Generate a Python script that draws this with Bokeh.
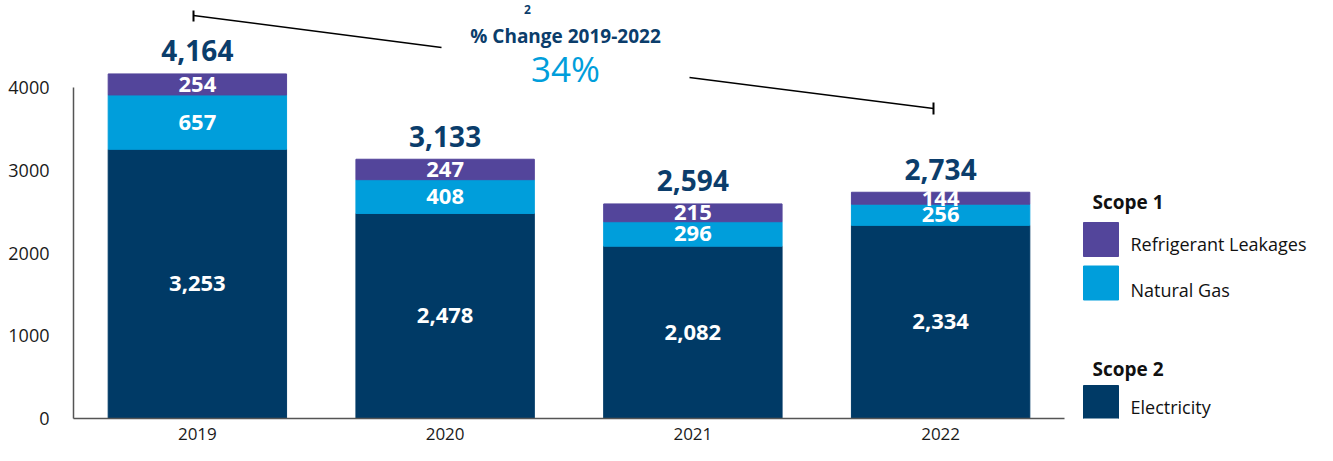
from bokeh.plotting import figure
from bokeh.models import Range1d, FixedTicker, ColumnDataSource
from bokeh.core.properties import value
from bokeh.embed import file_html
from bokeh.resources import INLINE

# ---------------- data ----------------
years = ["2019", "2020", "2021", "2022"]
electricity = [3253, 2478, 2082, 2334]
natural_gas = [657, 408, 296, 256]
refrigerant = [254, 247, 215, 144]
totals = [4164, 3133, 2594, 2734]
pct_change = 34
change_title = "% Change 2019-2022"
y_ticks = [0, 1000, 2000, 3000, 4000]

legend_groups = ["Scope 1", "Scope 2"]
legend_labels = ["Refrigerant Leakages", "Natural Gas", "Electricity"]

# ---------------- style / layout ----------------
NAVY = "#003A66"
LIGHT = "#009EDB"
PURPLE = "#53459B"
TXT_NAVY = "#0B3D6B"
FONT_NAME = "Open Sans"
FONT = value(FONT_NAME)

W_FIG, H_FIG = 1317, 445
FRAME_L, FRAME_B = 73, 418          # frame left / bottom in canvas px
CAT_PX = 247.75                      # px per category slot
PX_PER_UNIT = 331 / 4000             # px per unit

x_end = (W_FIG - FRAME_L) / CAT_PX
y_end = FRAME_B / PX_PER_UNIT


def dx(px):  # canvas px -> data x
    return (px - FRAME_L) / CAT_PX


def dy(py):  # canvas px -> data y
    return (FRAME_B - py) / PX_PER_UNIT


p = figure(x_range=Range1d(0, x_end), y_range=Range1d(0, y_end),
           width=W_FIG, height=H_FIG, output_backend="svg", toolbar_location=None,
           min_border_left=FRAME_L, min_border_right=0, min_border_top=0,
           min_border_bottom=H_FIG - FRAME_B)
p.outline_line_color = None
p.xgrid.grid_line_color = None
p.ygrid.grid_line_color = None

xs = [i + 0.5 for i in range(len(years))]
e_top = electricity
g_top = [e + g for e, g in zip(electricity, natural_gas)]
r_top = [g + r for g, r in zip(g_top, refrigerant)]

src = ColumnDataSource(dict(
    x=xs,
    e_bot=[0] * len(years), e_top=e_top,
    g_bot=e_top, g_top=g_top,
    r_bot=g_top, r_top=r_top,
    e_mid=[e / 2 for e in electricity],
    g_mid=[b + g / 2 for b, g in zip(e_top, natural_gas)],
    r_mid=[b + r / 2 for b, r in zip(g_top, refrigerant)],
    e_lab=[f"{v:,}" for v in electricity],
    g_lab=[f"{v:,}" for v in natural_gas],
    r_lab=[f"{v:,}" for v in refrigerant],
    tot_y=r_top,
    tot_lab=[f"{v:,}" for v in totals],
))

W = 0.72
p.vbar(x="x", bottom="e_bot", top="e_top", width=W, color=NAVY, source=src)
p.vbar(x="x", bottom="g_bot", top="g_top", width=W, color=LIGHT, source=src)
p.vbar(x="x", bottom="r_bot", top="r_top", width=W, color=PURPLE, source=src)

for ycol, tcol in [("e_mid", "e_lab"), ("g_mid", "g_lab"), ("r_mid", "r_lab")]:
    p.text(x="x", y=ycol, text=tcol, source=src, text_color="white",
           text_font=FONT, text_font_style="bold", text_font_size="22px",
           text_align="center", text_baseline="middle")

p.text(x="x", y="tot_y", text="tot_lab", source=src, text_color=TXT_NAVY,
       text_font=FONT, text_font_style="bold", text_font_size="28px",
       text_align="center", text_baseline="middle", y_offset=-23)

# ---------------- % change annotation ----------------
p.line(x=[dx(193), dx(441)], y=[dy(15), dy(47)], line_color="black", line_width=1.5)
p.line(x=[dx(689), dx(933)], y=[dy(77), dy(108)], line_color="black", line_width=1.5)
p.segment(x0=[dx(193), dx(933)], y0=[dy(10), dy(102)],
          x1=[dx(193), dx(933)], y1=[dy(21), dy(114)],
          line_color="black", line_width=2)
p.text(x=[dx(565)], y=[dy(35)], text=[change_title], text_color=TXT_NAVY,
       text_font=FONT, text_font_style="bold", text_font_size="19px",
       text_align="center", text_baseline="middle")
p.text(x=[dx(565)], y=[dy(68)], text=[f"{pct_change}%"], text_color=LIGHT,
       text_font=FONT, text_font_size="35px",
       text_align="center", text_baseline="middle")
p.text(x=[dx(527)], y=[dy(9)], text=["2"], text_color=TXT_NAVY,
       text_font=FONT, text_font_style="bold", text_font_size="12px",
       text_align="center", text_baseline="middle")

# ---------------- legend (drawn in the plot) ----------------
p.text(x=[dx(1092)] * 2, y=[dy(201), dy(368)], text=legend_groups, text_color="#111111",
       text_font=FONT, text_font_style="bold", text_font_size="19px",
       text_align="left", text_baseline="middle")
p.rect(x=[dx(1100.5)] * 3, y=[dy(239), dy(282.5), dy(402)],
       width=35, height=34, width_units="screen", height_units="screen",
       color=[PURPLE, LIGHT, NAVY])
p.text(x=[dx(1130)] * 3, y=[dy(243), dy(289), dy(406)], text=legend_labels,
       text_color="#111111", text_font=FONT, text_font_size="18px",
       text_align="left", text_baseline="middle")

# ---------------- axes ----------------
p.yaxis.ticker = FixedTicker(ticks=y_ticks)
p.yaxis.bounds = (0, 4000)
p.yaxis.major_tick_line_color = None
p.yaxis.minor_tick_line_color = None
p.yaxis.axis_line_color = "#555555"
p.yaxis.axis_line_width = 1.5
p.yaxis.major_label_standoff = 18
p.yaxis.major_label_text_font = FONT_NAME
p.yaxis.major_label_text_font_size = "18px"
p.yaxis.major_label_text_color = "#1a1a1a"

p.xaxis.ticker = FixedTicker(ticks=xs)
p.xaxis.major_label_overrides = {x: y for x, y in zip(xs, years)}
p.xaxis.bounds = (0, len(years))
p.xaxis.major_tick_line_color = None
p.xaxis.minor_tick_line_color = None
p.xaxis.axis_line_color = "#555555"
p.xaxis.axis_line_width = 1.5
p.xaxis.major_label_standoff = 3
p.xaxis.major_label_text_font = FONT_NAME
p.xaxis.major_label_text_font_size = "17px"
p.xaxis.major_label_text_color = "#1a1a1a"

open("out.html", "w").write(file_html(p, INLINE))
